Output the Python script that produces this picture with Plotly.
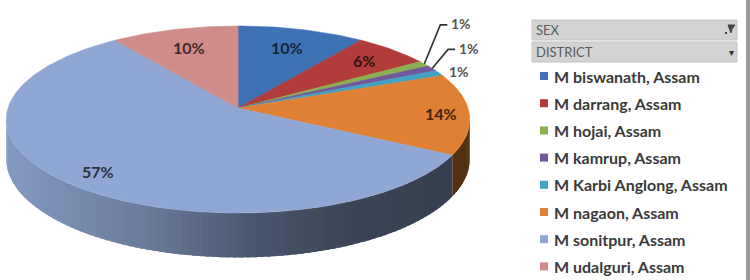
import math
import plotly.graph_objects as go

# ---------------- data ----------------
districts = ["M biswanath, Assam", "M darrang, Assam", "M hojai, Assam", "M kamrup, Assam",
             "M Karbi Anglong, Assam", "M nagaon, Assam", "M sonitpur, Assam", "M udalguri, Assam"]
shares = [10, 6, 1, 1, 1, 14, 57, 10]
filter_fields = ["SEX", "DISTRICT"]

# ---------------- style ----------------
slice_colors = [(63, 114, 181), (178, 60, 58), (140, 176, 80), (113, 88, 154),
                (64, 163, 196), (224, 128, 52), (143, 167, 210), (208, 140, 136)]
label_radius = [0.75, 0.8, None, None, None, 0.88, 0.85, 0.75]
outside_offsets = {2: (16, -39, 26), 3: (16, -19, 34), 4: (18, -2, None)}  # elbow dx, dy, label dx
FONT = "Lato"

CX, APEX_Y, A_Y, CP, RX, DEPTH = 238, 108, 78.8, -0.123, 230, 39


def project(u, v, z=0.0):
    d = 1 + CP * v
    return CX + RX * u / d, (A_Y * v + APEX_Y + DEPTH * z) / d


def rim(theta, r=1.0, z=0.0):
    t = math.radians(theta)
    return project(r * math.sin(t), -r * math.cos(t), z)


def rgb(c, f=1.0):
    return "rgb(%d,%d,%d)" % tuple(max(0, min(255, round(x * f))) for x in c)


total = sum(shares)
bounds = []
acc = 0
for s in shares:
    bounds.append((acc / total * 360, (acc + s) / total * 360))
    acc += s

fig = go.Figure()

# ---- side wall ----
th_min = math.degrees(math.acos(CP))
th_max = 360 - th_min
x_left = rim(th_max)[0]
x_right = rim(th_min)[0]
shade_pts = [(0, 0.92), (0.3, 0.74), (0.53, 0.52), (0.75, 0.41), (1, 0.37)]


def shade(t):
    t = max(0, min(1, t))
    for (t0, f0), (t1, f1) in zip(shade_pts, shade_pts[1:]):
        if t <= t1:
            return f0 + (f1 - f0) * (t - t0) / (t1 - t0)
    return shade_pts[-1][1]


for i, (a0, a1) in enumerate(bounds):
    lo, hi = max(a0, th_min), min(a1, th_max)
    if hi <= lo:
        continue
    n = max(1, int((hi - lo) / 1.5))
    for k in range(n):
        b0 = lo + (hi - lo) * k / n
        b1 = lo + (hi - lo) * (k + 1) / n
        b1x = min(hi, b1 + 0.8)
        p = [rim(b0), rim(b1x), rim(b1x, z=1), rim(b0, z=1)]
        xs = [q[0] for q in p] + [p[0][0]]
        ys = [q[1] for q in p] + [p[0][1]]
        t = ((rim(b0)[0] + rim(b1)[0]) / 2 - x_left) / (x_right - x_left)
        col = rgb(slice_colors[i], shade(t))
        fig.add_trace(go.Scatter(x=xs, y=ys, mode="lines", fill="toself", fillcolor=col,
                                 line=dict(width=0), hoverinfo="skip", showlegend=False))

# ---- top faces ----
for i, (a0, a1) in enumerate(bounds):
    n = max(2, int((a1 - a0) / 1.0))
    pts = [project(0, 0)] + [rim(a0 + (a1 - a0) * k / n) for k in range(n + 1)] + [project(0, 0)]
    col = rgb(slice_colors[i])
    fig.add_trace(go.Scatter(x=[p[0] for p in pts], y=[p[1] for p in pts], mode="lines",
                             fill="toself", fillcolor=col, line=dict(color=col, width=0.6),
                             name=districts[i], hoverinfo="name", showlegend=False))

annotations = []
shapes = []

# ---- data labels ----
for i, (a0, a1) in enumerate(bounds):
    pct = "<b>%d%%</b>" % round(shares[i] / total * 100)
    mid = (a0 + a1) / 2
    if label_radius[i] is not None:
        x, y = rim(mid, label_radius[i])
        annotations.append(dict(x=x, y=y, text=pct, showarrow=False,
                                font=dict(family=FONT, size=16, color=rgb(slice_colors[i], 0.3)),
                                xanchor="center", yanchor="middle"))
    else:
        rx, ry = rim(mid)
        ex, ey, ldx = outside_offsets[i]
        if ldx is not None:
            ex2, ey2 = rx + ex, ry + ey
            fig.add_trace(go.Scatter(x=[rx, ex2, ex2 + 7], y=[ry, ey2, ey2], mode="lines",
                                     line=dict(color="#333333", width=1.6), hoverinfo="skip",
                                     showlegend=False))
            annotations.append(dict(x=ex2 + 9, y=ey2 - 1, text=pct, showarrow=False,
                                    font=dict(family=FONT, size=14, color="#555555"),
                                    xanchor="left", yanchor="middle"))
        else:
            annotations.append(dict(x=rx + 8, y=ry - 2, text=pct, showarrow=False,
                                    font=dict(family=FONT, size=14, color="#555555"),
                                    xanchor="left", yanchor="middle"))

# ---- legend panel ----
shapes.append(dict(type="rect", x0=746, x1=751, y0=-1, y1=281, fillcolor="#9a9a9a",
                   line=dict(width=0), layer="above"))
for j, fld in enumerate(filter_fields):
    y0 = 20 + j * 22
    shapes.append(dict(type="rect", x0=532, x1=737, y0=y0, y1=y0 + 20,
                       fillcolor="#d3d3d3", line=dict(color="#c4c4c4", width=1), layer="above"))
    annotations.append(dict(x=534, y=y0 + 10, text=fld, showarrow=False, xanchor="left",
                            yanchor="middle", font=dict(family=FONT, size=13, color="#5a5a5a")))
    if j == 0:
        shapes.append(dict(type="path", path="M %d %d L %d %d L %d %d L %d %d Z" % (
            728, y0 + 5, 735, y0 + 5, 732, y0 + 9, 731, y0 + 13),
            fillcolor="#444444", line=dict(color="#444444", width=1), layer="above"))
        shapes.append(dict(type="rect", x0=725, x1=727, y0=y0 + 12, y1=y0 + 14,
                           fillcolor="#444444", line=dict(width=0), layer="above"))
    else:
        annotations.append(dict(x=731, y=y0 + 10, text="▾", showarrow=False, xanchor="center",
                                yanchor="middle", font=dict(family="DejaVu Sans", size=10, color="#333333")))

for i, name in enumerate(districts):
    yc = 76 + i * 27.2
    shapes.append(dict(type="rect", x0=540, x1=548, y0=yc - 4, y1=yc + 4,
                       fillcolor=rgb(slice_colors[i]), line=dict(width=0), layer="above"))
    annotations.append(dict(x=552, y=yc, text="<b>%s</b>" % name, showarrow=False, xanchor="left",
                            yanchor="middle", font=dict(family=FONT, size=16, color="#3a3a3a")))

fig.update_layout(
    width=750, height=280, margin=dict(l=0, r=0, t=0, b=0),
    paper_bgcolor="white", plot_bgcolor="white",
    xaxis=dict(range=[0, 750], visible=False, fixedrange=True),
    yaxis=dict(range=[280, 0], visible=False, fixedrange=True),
    annotations=annotations, shapes=shapes, showlegend=False,
)
fig.write_html("out.html")
